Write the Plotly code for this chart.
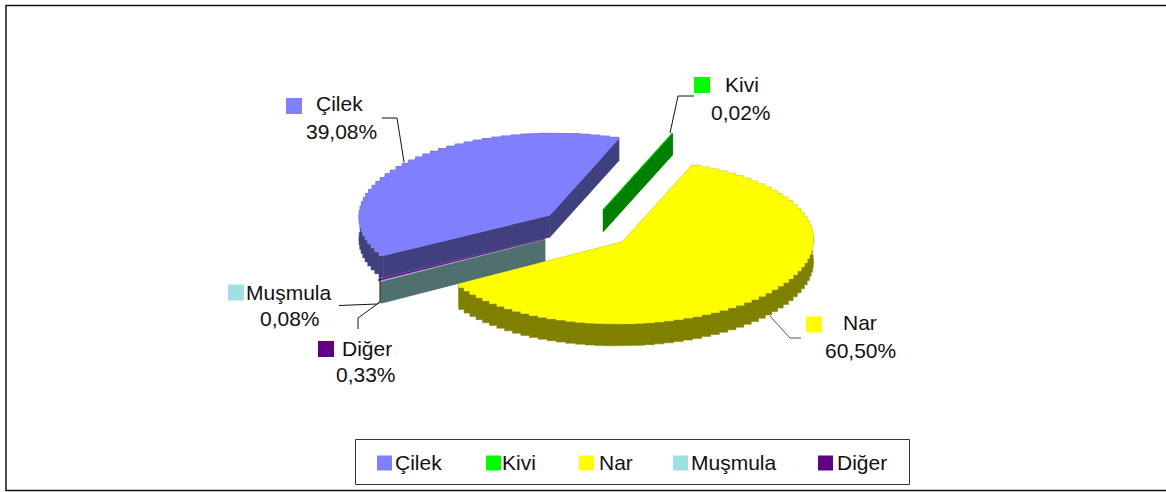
import numpy as np
import plotly.graph_objects as go

categories = ["Çilek", "Kivi", "Nar", "Muşmula", "Diğer"]
values = [39.08, 0.02, 60.50, 0.08, 0.33]
top_colors = ["#8080FF", "#00FF00", "#FFFF00", "#A0E0E0", "#600080"]
side_colors = ["#40407F", "#008000", "#808000", "#507070", "#400060"]
has_walls = [True, True, True, True, False]
draw_order = [0, 1, 3, 4, 2]

# pie geometry (pixel-based axes)
CX, CY, A, B, DEPTH, EXPLODE = 586, 228.6, 191, 82, 22, 0.25
START = -119.5
STEP = 3.0
W, H = 1166, 492


def arc(t0, t1, ox, oy, dz=0):
    n = max(1, int(np.ceil((t1 - t0) / STEP)))
    t = np.radians(np.linspace(t0, t1, n + 1))
    x = ox + A * np.sin(t)
    y = oy - B * np.cos(t) + dz
    xs, ys = [x[0]], [y[0]]
    for i in range(1, len(x)):
        xs += [x[i], x[i]]
        ys += [y[i - 1], y[i]]
    return xs, ys


def poly(fig, xs, ys, color):
    fig.add_trace(go.Scatter(x=list(xs) + [xs[0]], y=list(ys) + [ys[0]], mode="lines", fill="toself",
                             fillcolor=color, line=dict(color=color, width=0.5),
                             hoverinfo="skip", showlegend=False))


fig = go.Figure()

total = sum(values)
spans = [v / total * 360 for v in values]
starts = list(START + np.cumsum([0] + spans[:-1]))

for idx in draw_order:
    t0, t1 = starts[idx], starts[idx] + spans[idx]
    mid = np.radians((t0 + t1) / 2)
    ox = CX + EXPLODE * A * np.sin(mid)
    oy = CY - EXPLODE * B * np.cos(mid)
    ax, ay = arc(t0, t1, ox, oy)
    bx, by = arc(t0, t1, ox, oy, DEPTH)
    if has_walls[idx]:
        # outer wall
        poly(fig, ax + bx[::-1], ay + by[::-1], side_colors[idx])
        # radial walls
        for end in (0, -1):
            poly(fig, [ox, ax[end], ax[end], ox], [oy, ay[end], ay[end] + DEPTH, oy + DEPTH], side_colors[idx])
    # top surface
    poly(fig, [ox] + ax, [oy] + ay, top_colors[idx])

# leader lines
leaders = [
    ([382, 397, 404], [118, 118, 162], "#111111"),
    ([694, 678, 670], [96, 96, 133], "#111111"),
    ([770, 790, 801], [316, 338, 338], "#555555"),
    ([339, 377, 380, 380], [305.5, 304, 302, 277], "#111111"),
    ([380, 358, 358], [302, 318, 329], "#111111"),
]
for lx, ly, c in leaders:
    fig.add_trace(go.Scatter(x=lx, y=ly, mode="lines", line=dict(color=c, width=1),
                             hoverinfo="skip", showlegend=False))

# data-label keys and text
key_x = [294, 702, 814, 236, 326]
key_y = [106, 85, 324.5, 292.5, 349]
name_xy = [(339, 103), (742, 84), (860, 322), (289, 292), (367, 348)]
pct_xy = [(341, 131), (741, 112), (860, 350), (290, 318), (366, 374)]
fig.add_trace(go.Scatter(x=key_x, y=key_y, mode="markers",
                         marker=dict(symbol="square", size=16, color=top_colors, line=dict(width=0)),
                         hoverinfo="skip", showlegend=False))

FONT = dict(family="Liberation Sans, Arial, sans-serif", size=21, color="#111111")
for i, c in enumerate(categories):
    fig.add_annotation(x=name_xy[i][0], y=name_xy[i][1], text=c, showarrow=False, font=FONT,
                       xanchor="center", yanchor="middle")
    fig.add_annotation(x=pct_xy[i][0], y=pct_xy[i][1], text=f"{values[i]:.2f}".replace(".", ",") + "%",
                       showarrow=False, font=FONT, xanchor="center", yanchor="middle")

# legend
legend_key_x = [384.5, 493.5, 586.5, 680.5, 825.5]
legend_text_x = [393, 500, 597, 689, 835]
LEGEND_Y = 463
fig.add_trace(go.Scatter(x=legend_key_x, y=[LEGEND_Y] * 5, mode="markers",
                         marker=dict(symbol="square", size=15, color=top_colors, line=dict(width=0)),
                         hoverinfo="skip", showlegend=False))
for c, x in zip(categories, legend_text_x):
    fig.add_annotation(x=x, y=LEGEND_Y - 1, text=c, showarrow=False, font=FONT, xanchor="left", yanchor="middle")

fig.update_layout(
    width=W, height=H, autosize=False,
    margin=dict(l=0, r=0, t=0, b=0),
    paper_bgcolor="white", plot_bgcolor="white", showlegend=False,
    xaxis=dict(range=[0, W], visible=False, fixedrange=True),
    yaxis=dict(range=[H, 0], visible=False, fixedrange=True),
    shapes=[
        dict(type="rect", xref="x", yref="y", x0=6, y0=5.5, x1=1180, y1=490.5,
             line=dict(color="#111111", width=1.5), layer="below"),
        dict(type="rect", xref="x", yref="y", x0=355.5, y0=439.5, x1=909.5, y1=484.5,
             line=dict(color="#333333", width=1), layer="below"),
    ],
)
fig.write_html("out.html", config={"displayModeBar": False},
               post_script="document.body.style.margin='0';document.documentElement.style.overflow='hidden';")
